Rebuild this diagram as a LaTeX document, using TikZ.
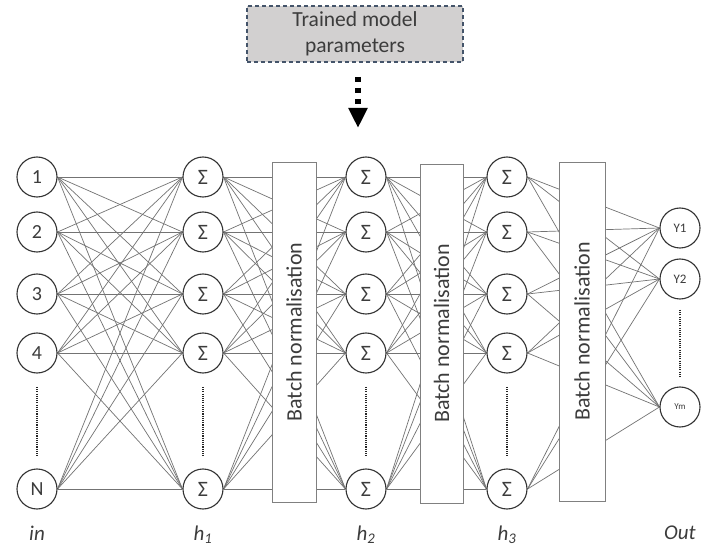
\documentclass[tikz,border=0pt]{standalone}
\usepackage{fontspec}
\setmainfont{Carlito}
\usetikzlibrary{arrows.meta,backgrounds}
\definecolor{boxfill}{RGB}{210,208,208}
\definecolor{boxedge}{RGB}{68,84,106}
\definecolor{txtgray}{RGB}{60,60,60}
\begin{document}
\begin{tikzpicture}[x=1pt,y=-1pt,
  neuron/.style={circle,draw=black!80,line width=1.1pt,fill=white,minimum size=40pt,inner sep=0pt,text=txtgray},
  innum/.style={neuron,font=\fontsize{20}{22}\selectfont},
  sig/.style={neuron,font=\fontsize{22}{22}\selectfont},
  outn/.style={neuron,font=\fontsize{13}{14}\selectfont},
  bnbox/.style={draw=black!50,line width=0.9pt,fill=white,rotate=90,minimum height=44pt,inner sep=0pt,text=txtgray,font=\fontsize{22}{24}\selectfont},
  topbox/.style={draw=boxedge,line width=1.3pt,dash pattern=on 4pt off 3pt,fill=boxfill,minimum width=216pt,minimum height=56pt,align=center,text=txtgray,font=\fontsize{21.5}{26}\selectfont},
  conn/.style={draw=black!55,line width=0.7pt},
  vdots/.style={draw=black!85,line width=1.8pt,dash pattern=on 1.1pt off 1.1pt},
  lab/.style={text=txtgray,anchor=base,font=\fontsize{21}{22}\selectfont\itshape}
]
\useasboundingbox (0,0) rectangle (713,548);

% top box and arrow
\node[topbox] (tp) at (355,34) {Trained model\\parameters};
\coordinate (astart) at (358,77);
\coordinate (atip) at (358,128);
\draw[line width=5.5pt,dash pattern=on 5pt off 6pt,-{Triangle[width=18pt,length=20pt]}] (astart) -- (atip);

% input layer
\foreach \n/\y/\t in {1/177/1,2/232/2,3/294/3,4/353/4,5/489/N}
  \node[innum] (i\n) at (37,\y) {\t};
% hidden layers
\foreach \n/\y in {1/177,2/232,3/294,4/353,5/489}{
  \node[sig] (a\n) at (203,\y) {Σ};
  \node[sig] (b\n) at (366,\y) {Σ};
  \node[sig] (c\n) at (507,\y) {Σ};
}
% outputs
\node[outn] (o1) at (680,228) {Y1};
\node[outn] (o2) at (680,279) {Y2};
\node[outn,font=\fontsize{9}{10}\selectfont] (o3) at (680,407) {Ym};

% batch normalisation boxes
\node[bnbox,minimum width=340pt] (bn1) at (294,332) {Batch normalisation};
\node[bnbox,minimum width=339pt,minimum height=43pt] (bn2) at (441.5,333.5) {Batch normalisation};
\node[bnbox,minimum width=339pt,minimum height=46pt] (bn3) at (582,331.5) {Batch normalisation};

% connections
\begin{scope}[on background layer]
\fill[white] (0,0) rectangle (713,548);
\foreach \s in {1,...,5}{
  \foreach \t in {1,...,5}{
    \draw[conn] (i\s.east) -- (a\t.west);
    \draw[conn] (a\s.east) -- (b\t.west);
    \draw[conn] (b\s.east) -- (c\t.west);
  }
  \foreach \t in {1,2,3}
    \draw[conn] (c\s.east) -- (o\t.west);
}
\end{scope}

% vertical dots
\coordinate (d0t) at (37,387); \coordinate (d0b) at (37,456);
\coordinate (d1t) at (203,387); \coordinate (d1b) at (203,456);
\coordinate (d2t) at (366,387); \coordinate (d2b) at (366,456);
\coordinate (d3t) at (507,387); \coordinate (d3b) at (507,456);
\coordinate (d4t) at (680,310); \coordinate (d4b) at (680,378);
\foreach \k in {0,...,4} \draw[vdots] (d\k t) -- (d\k b);

% layer labels
\node[lab] (lin) at (37,540) {in};
\node[lab] (lh1) at (203,540) {h\textsubscript{1}};
\node[lab] (lh2) at (366,540) {h\textsubscript{2}};
\node[lab] (lh3) at (507,540) {h\textsubscript{3}};
\node[lab] (lout) at (680,539) {Out};
\end{tikzpicture}
\end{document}
